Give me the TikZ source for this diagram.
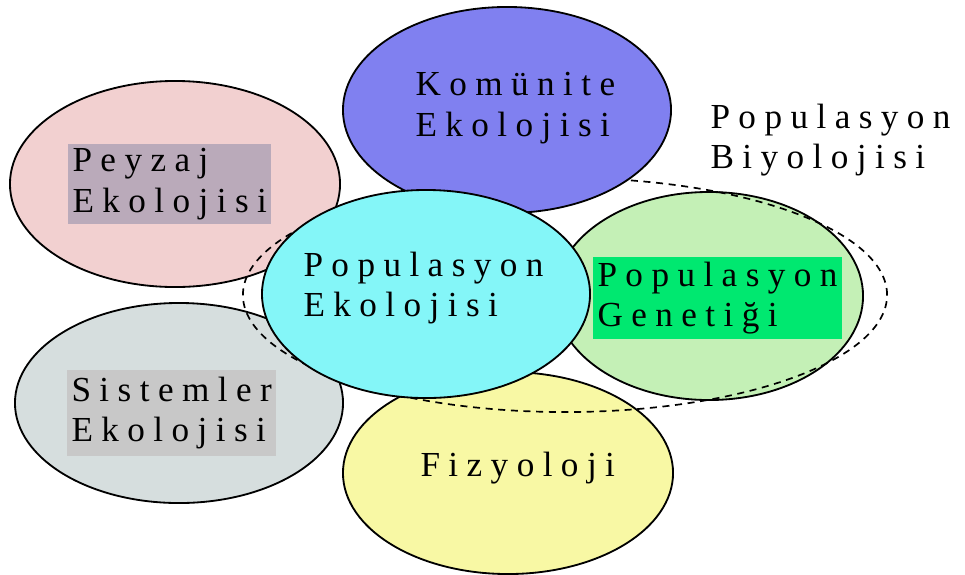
\documentclass[tikz,border=0pt]{standalone}
\usepackage{fontspec}
\newfontfamily\blobfont[LetterSpace=24]{Liberation Serif}
\usetikzlibrary{shapes.geometric}
\definecolor{pinkfill}{RGB}{242,208,208}
\definecolor{mauvebox}{RGB}{186,170,186}
\definecolor{komblue}{RGB}{128,128,240}
\definecolor{ekocyan}{RGB}{132,246,248}
\definecolor{genlight}{RGB}{196,240,182}
\definecolor{genbox}{RGB}{0,232,112}
\definecolor{sisfill}{RGB}{214,222,222}
\definecolor{sisbox}{RGB}{200,200,200}
\definecolor{fizyellow}{RGB}{248,248,164}

\begin{document}
\begin{tikzpicture}[x=0.025cm, y=-0.025cm,
        blob/.style={ellipse, draw=black, line width=1.3pt, inner sep=0pt},
        lbl/.style={font=\blobfont\fontsize{25}{29}\selectfont, align=left, anchor=west, inner sep=3pt}
    ]
    \useasboundingbox (0,0) rectangle (965,574);
    % outer circles
    \node[blob, fill=pinkfill, minimum width=8.25cm, minimum height=5.15cm] (PEYZAJ) at (175,184) {};
    \node[blob, fill=sisfill, minimum width=8.2cm, minimum height=5cm] (SISTEM) at (179,403) {};
    \node[blob, fill=fizyellow, minimum width=8.25cm, minimum height=5.05cm] (FIZYO) at (508,473) {};
    \node[blob, fill=genlight, minimum width=7.7cm, minimum height=5.2cm] (GENETIK) at (709,296) {};
    % population biology boundary
    \node[ellipse, draw=black, line width=1.2pt, dash pattern=on 5pt off 4pt, minimum width=16.1cm, minimum height=5.85cm] (BIYO) at (565,295) {};
    \node[blob, fill=komblue, minimum width=8.2cm, minimum height=5.15cm] (KOMUN) at (507,110) {};
    \node[blob, fill=ekocyan, minimum width=8.2cm, minimum height=5.2cm] (EKO) at (426,294) {};
    % labels
    \node[lbl, fill=mauvebox] (PEYZAJtxt) at (68,184) {Peyzaj\\Ekolojisi};
    \node[lbl] (KOMUNtxt) at (411,108) {Komünite\\Ekolojisi};
    \node[lbl] (BIYOtxt) at (706,140) {Populasyon\\Biyolojisi};
    \node[lbl] (EKOtxt) at (299,288) {Populasyon\\Ekolojisi};
    \node[lbl, fill=genbox] (GENtxt) at (593,298) {Populasyon\\Genetiği};
    \node[lbl, fill=sisbox, inner ysep=5pt] (SIStxt) at (67,413) {Sistemler\\Ekolojisi};
    \node[lbl] (FIZtxt) at (416,468) {Fizyoloji};
\end{tikzpicture}
\end{document}
